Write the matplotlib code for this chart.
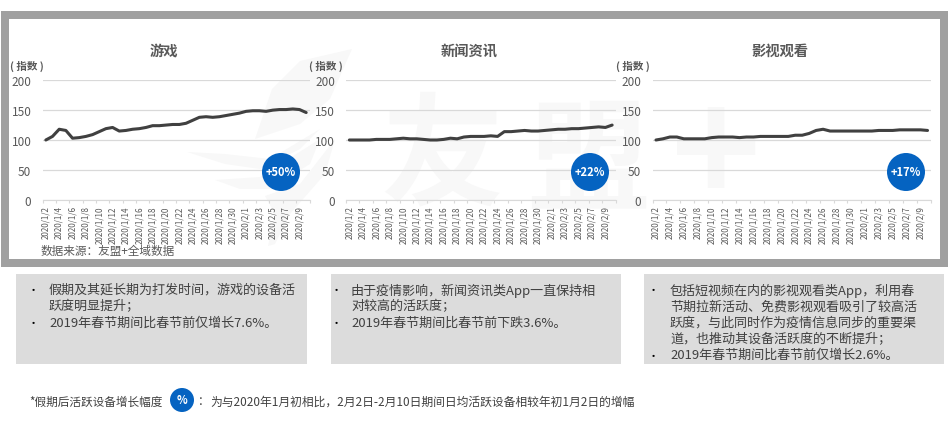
import matplotlib
matplotlib.use('Agg')
import matplotlib.pyplot as plt
from matplotlib.patches import Circle, Polygon, Rectangle

plt.rcParams['font.family'] = ['Noto Sans CJK SC', 'DejaVu Sans']

W, H = 948, 427

# dates on the x axis, labels only on every second day
dates = ['2020/1/%d' % d for d in range(2, 32)] + ['2020/2/%d' % d for d in range(1, 11)]

games = [100, 106, 118, 116, 103, 104, 106, 109, 114, 119,
         121, 115, 116, 118, 119, 121, 124, 124, 125, 126,
         126, 128, 133, 138, 139, 138, 139, 141, 143, 145,
         148, 149, 149, 148, 150, 151, 151, 152, 151, 146]
news = [100, 100, 100, 100, 101, 101, 101, 102, 103, 102,
        102, 101, 100, 100, 101, 103, 102, 105, 106, 106,
        106, 107, 106, 114, 114, 115, 116, 115, 115, 116,
        117, 118, 118, 119, 119, 120, 121, 122, 121, 125]
video = [100, 102, 105, 105, 102, 102, 102, 102, 104, 105,
         105, 105, 104, 105, 105, 106, 106, 106, 106, 106,
         108, 108, 111, 116, 118, 115, 115, 115, 115, 115,
         115, 115, 116, 116, 116, 117, 117, 117, 117, 116]

titles = ['游戏', '新闻资讯', '影视观看']
series = [games, news, video]
badges = ['+50%', '+22%', '+17%']
yticks = [0, 50, 100, 150, 200]

notes = [
    [['假期及其延长期为打发时间，游戏的设备活', '跃度明显提升；'],
     ['2019年春节期间比春节前仅增长7.6%。']],
    [['由于疫情影响，新闻资讯类App一直保持相', '对较高的活跃度；'],
     ['2019年春节期间比春节前下跌3.6%。']],
    [['包括短视频在内的影视观看类App，利用春', '节期拉新活动、免费影视观看吸引了较高活',
      '跃度，与此同时作为疫情信息同步的重要渠', '道，也推动其设备活跃度的不断提升；'],
     ['2019年春节期间比春节前仅增长2.6%。']],
]

# pixel layout
axes_x = [(42.5, 309.5), (346, 615.5), (652.5, 931)]
title_x = [164, 469, 780]
unit_x = [27, 326, 633]
badge_x = [281, 590, 906]
box_x = [(16, 307), (331, 621), (644, 944)]
bullet_x = [33, 336, 653]
text_x = [49, 351, 670]
ax_top, ax_bottom = 81.3, 200.7

GREY = '#595959'
DARK = '#404040'
BLUE = '#0563c1'
MARK = '#f8f8f8'


def overlay(z):
    a = fig.add_axes([0, 0, 1, 1], zorder=z)
    a.set_xlim(0, W)
    a.set_ylim(H, 0)
    a.axis('off')
    a.patch.set_alpha(0)
    return a


fig = plt.figure(figsize=(W / 100, H / 100), dpi=100, facecolor='white')
back = overlay(0)
top = overlay(2)

# watermark behind the charts
wings = [
    [(352, 50), (300, 62), (272, 90), (255, 140), (300, 125), (330, 100)],
    [(187, 153), (225, 155), (270, 160), (320, 130), (300, 150), (260, 170), (225, 165)],
    [(215, 181), (260, 178), (320, 140), (310, 165), (270, 190), (240, 190)],
    [(265, 197), (300, 185), (335, 140), (325, 175), (290, 215), (275, 245), (268, 247), (275, 215)],
]
for w in wings:
    back.add_patch(Polygon(w, closed=True, fc=MARK, ec='none'))
for s, x, y, size in [('友', 442, 160, 88), ('盟', 588, 165, 88), ('+', 716, 160, 110)]:
    back.text(x, y, s, fontsize=size, fontweight='bold', color=MARK, ha='center', va='center')

# grey frame around the charts
back.add_patch(Rectangle((5, 16), 939, 248, fc='none', ec='#a0a0a0', lw=5.76))

for i in range(3):
    x0, x1 = axes_x[i]
    ax = fig.add_axes([x0 / W, 1 - ax_bottom / H, (x1 - x0) / W, (ax_bottom - ax_top) / H], zorder=1)
    ax.patch.set_alpha(0)
    ax.plot(range(len(dates)), series[i], color=DARK, lw=2.2, solid_joinstyle='round', solid_capstyle='round')
    ax.set_xlim(-0.5, len(dates) - 0.5)
    ax.set_ylim(0, 200)
    ax.set_yticks(yticks)
    ax.grid(axis='y', color='#d9d9d9', lw=0.9)
    ax.set_axisbelow(True)
    ax.tick_params(axis='y', length=0, pad=8, labelsize=8.5, labelcolor=GREY)
    ax.set_xticks(range(0, len(dates), 2))
    ax.set_xticklabels(dates[::2], rotation=90, fontsize=5.8, color=GREY)
    ax.set_xticks([k - 0.5 for k in range(0, len(dates) + 1, 2)], minor=True)
    ax.tick_params(axis='x', which='major', length=0, pad=4)
    ax.tick_params(axis='x', which='minor', length=2.5, color='#d9d9d9', width=0.8)
    for s in ['top', 'left', 'right']:
        ax.spines[s].set_visible(False)
    ax.spines['bottom'].set_color('#d9d9d9')

    top.text(title_x[i], 52, titles[i], fontsize=10.3, fontweight='bold', color=GREY, ha='center', va='center')
    top.text(unit_x[i], 66.5, '( 指数 )', fontsize=7.6, fontweight='bold', color=GREY, ha='center', va='center')
    top.add_patch(Circle((badge_x[i], 173), 19, fc=BLUE, ec='none'))
    top.text(badge_x[i], 173, badges[i], fontsize=8, color='white', fontweight='bold', ha='center', va='center')

    # text box under the chart
    bx0, bx1 = box_x[i]
    top.add_patch(Rectangle((bx0, 275), bx1 - bx0, 90, fc='#dcdcdc', ec='none'))
    y = 290.5
    for item in notes[i]:
        top.text(bullet_x[i], y + 1, '•', fontsize=8, color='black', ha='center', va='center')
        for line in item:
            top.text(text_x[i], y, line, fontsize=9.4, color=DARK, ha='left', va='center')
            y += 16.3

top.text(41, 252, '数据来源：友盟+全域数据', fontsize=8.4, color=GREY, ha='left', va='center')

# footnote
top.text(29, 402, '*假期后活跃设备增长幅度', fontsize=8.4, color=DARK, ha='left', va='center')
top.add_patch(Circle((182, 401), 12, fc=BLUE, ec='none'))
top.text(182, 401, '%', fontsize=8, color='white', fontweight='bold', ha='center', va='center')
top.text(198, 402, '：', fontsize=8.4, color=DARK, ha='left', va='center')
top.text(210, 402, '为与2020年1月初相比，2月2日-2月10日期间日均活跃设备相较年初1月2日的增幅',
         fontsize=8.5, color=DARK, ha='left', va='center')

fig.savefig('out.png', dpi=100)
